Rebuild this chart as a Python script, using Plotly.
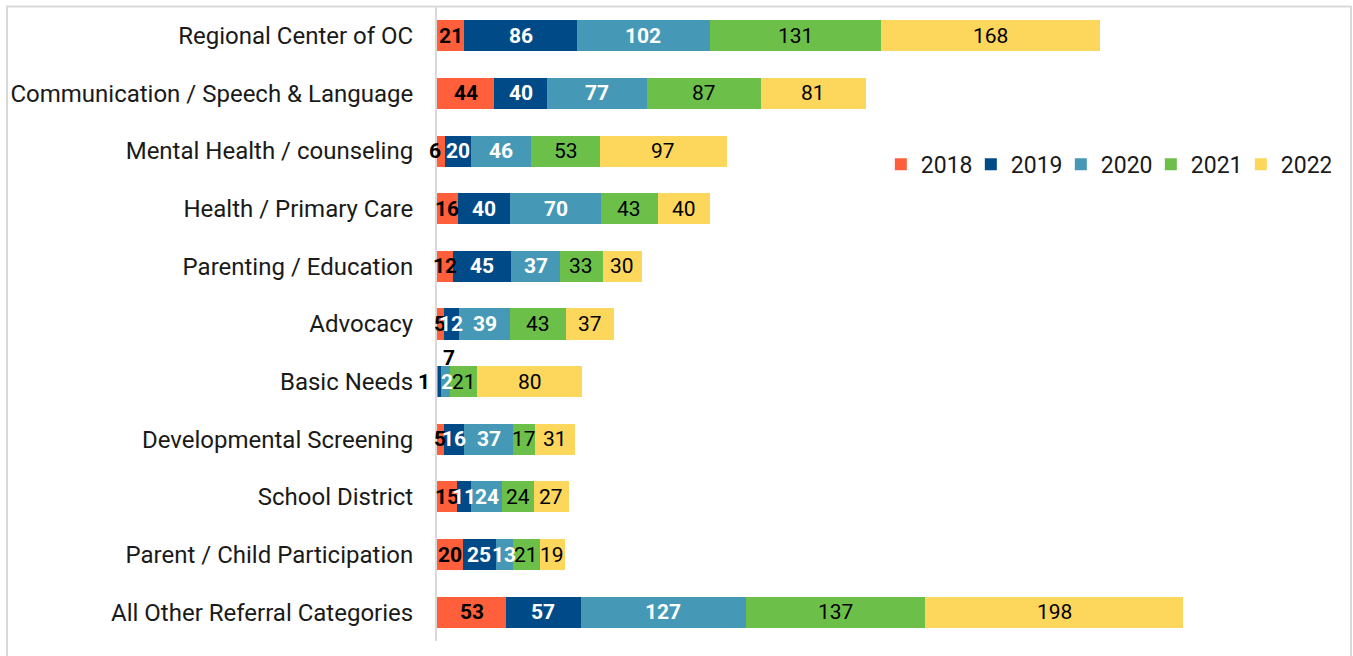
import plotly.graph_objects as go

categories = [
    "Regional Center of OC",
    "Communication / Speech & Language",
    "Mental Health / counseling",
    "Health / Primary Care",
    "Parenting / Education",
    "Advocacy",
    "Basic Needs",
    "Developmental Screening",
    "School District",
    "Parent / Child Participation",
    "All Other Referral Categories",
]
years = ["2018", "2019", "2020", "2021", "2022"]
v2018 = [21, 44, 6, 16, 12, 5, 1, 5, 15, 20, 53]
v2019 = [86, 40, 20, 40, 45, 12, 2, 16, 11, 25, 57]
v2020 = [102, 77, 46, 70, 37, 39, 7, 37, 24, 13, 127]
v2021 = [131, 87, 53, 43, 33, 43, 21, 17, 24, 21, 137]
v2022 = [168, 81, 97, 40, 30, 37, 80, 31, 27, 19, 198]
series = [v2018, v2019, v2020, v2021, v2022]

colors = ["#FF5F3B", "#004B87", "#4599B6", "#6CC04A", "#FDD65C"]
label_colors = ["#000000", "#FFFFFF", "#FFFFFF", "#000000", "#000000"]
label_bold = [True, True, True, False, False]

# small per-label nudges (style only), keyed by (series index, category index)
nudges = {
    (0, 6): (-14, 0, None),
    (1, 6): (7, 0, None),
    (2, 6): (4, 24, "#000000"),
    (0, 2): (-6, 0, None),
}

fig = go.Figure()
for i, (yr, vals) in enumerate(zip(years, series)):
    fig.add_trace(go.Bar(
        name=yr, y=categories, x=vals, orientation="h",
        marker=dict(color=colors[i], line=dict(width=0)),
        hoverinfo="x+y+name",
    ))

annotations = []
for j, cat in enumerate(categories):
    cum = 0
    for i, vals in enumerate(series):
        v = vals[j]
        mid = cum + v / 2
        cum += v
        dx, dy, col = nudges.get((i, j), (0, 0, None))
        txt = f"<b>{v}</b>" if label_bold[i] else str(v)
        annotations.append(dict(
            x=mid, y=cat, xref="x", yref="y", text=txt, showarrow=False,
            xshift=dx, yshift=dy,
            font=dict(family="Roboto", size=21, color=col or label_colors[i]),
        ))

fig.update_layout(
    width=1353, height=656,
    margin=dict(l=437, r=13, t=7, b=15, autoexpand=False),
    paper_bgcolor="white", plot_bgcolor="white",
    barmode="stack", bargap=0.46,
    font=dict(family="Roboto", size=23, color="#1a1a1a"),
    xaxis=dict(range=[0, 692], showticklabels=False, showgrid=False,
               zeroline=False, showline=False, fixedrange=True),
    yaxis=dict(categoryorder="array", categoryarray=categories,
               autorange="reversed", showgrid=False, zeroline=False,
               showline=True, linecolor="#d9d9d9", linewidth=2,
               ticks="", ticklabelstandoff=17,
               tickfont=dict(family="Roboto", size=24, color="#1a1a1a")),
    legend=dict(orientation="h", x=0.4915, y=0.752, xanchor="left",
                yanchor="middle", bgcolor="rgba(0,0,0,0)",
                font=dict(family="Roboto", size=23, color="#1a1a1a"),
                entrywidth=45, entrywidthmode="pixels", traceorder="normal"),
    annotations=annotations,
    shapes=[dict(type="rect", xref="paper", yref="paper",
                 x0=-0.4762, x1=1.0122, y0=-0.1, y1=1.0008,
                 line=dict(color="#d9d9d9", width=2), layer="above")],
)

fig.write_html("out.html", post_script="document.body.style.margin='0';",
               config={"displayModeBar": False})
